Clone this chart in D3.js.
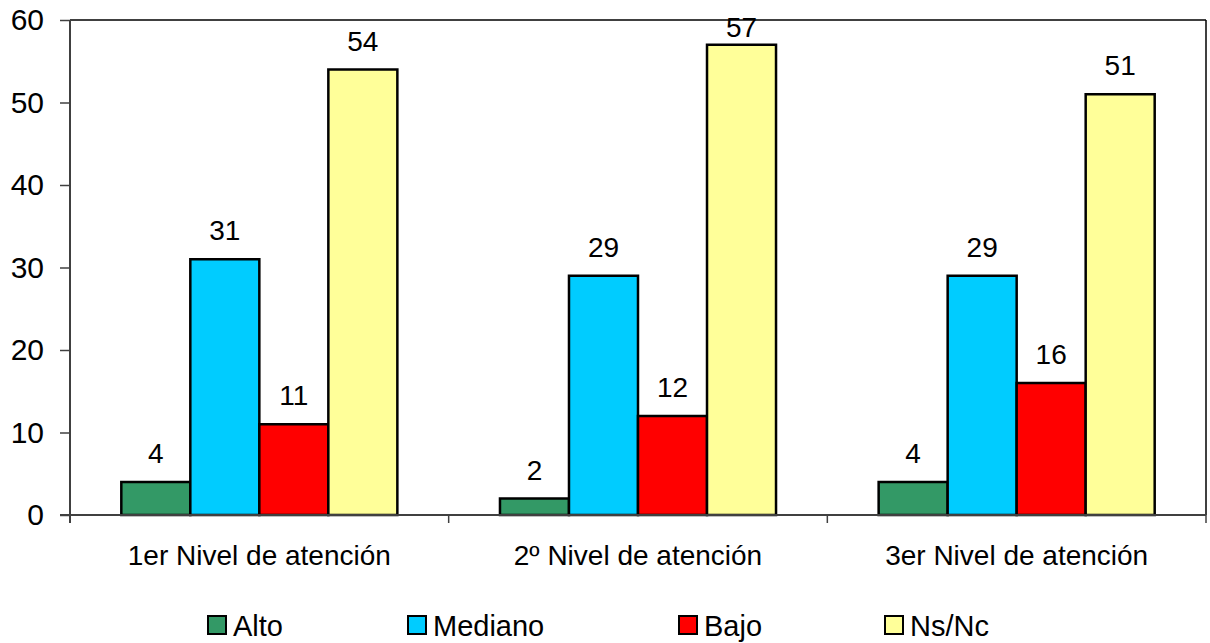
<!DOCTYPE html>
<html>
<head>
<meta charset="utf-8">
<script src="https://cdn.jsdelivr.net/npm/d3@7"></script>
<style>
  html, body { margin: 0; padding: 0; background: #fff; }
  svg { display: block; }
  text { font-family: Arial, "Liberation Sans", sans-serif; fill: #000; }
</style>
</head>
<body>
<svg id="chart" width="1210" height="643"></svg>
<script>
const categories = ["1er Nivel de atención", "2º Nivel de atención", "3er Nivel de atención"];
const seriesNames = ["Alto", "Mediano", "Bajo", "Ns/Nc"];
const seriesColors = ["#339966", "#00CCFF", "#FF0000", "#FFFF99"];
const alto = [4, 2, 4];
const mediano = [31, 29, 29];
const bajo = [11, 12, 16];
const nsnc = [54, 57, 51];
const yTicks = [0, 10, 20, 30, 40, 50, 60];

const seriesValues = [alto, mediano, bajo, nsnc];

const svg = d3.select("#chart");
const plotLeft = 70, plotRight = 1206, plotTop = 20, plotBottom = 515;

const x0 = d3.scaleBand().domain(categories).range([plotLeft, plotRight])
  .paddingInner(0.271).paddingOuter(0.1355);
const x1 = d3.scaleBand().domain(seriesNames).range([0, x0.bandwidth()]).padding(0);
const y = d3.scaleLinear().domain([0, 60]).range([plotBottom, plotTop]);

// plot border top and right
svg.append("line").attr("x1", plotLeft).attr("x2", plotRight).attr("y1", plotTop).attr("y2", plotTop)
  .attr("stroke", "#000").attr("stroke-width", 1.5);
svg.append("line").attr("x1", plotRight).attr("x2", plotRight).attr("y1", plotTop).attr("y2", plotBottom)
  .attr("stroke", "#000").attr("stroke-width", 1.5);

// y axis
const yAxis = d3.axisLeft(y).tickValues(yTicks).tickSize(10).tickPadding(16);
const gy = svg.append("g").attr("transform", `translate(${plotLeft},0)`).call(yAxis);
gy.select(".domain").remove();
gy.selectAll(".tick line").attr("stroke", "#404040").attr("stroke-width", 1.5);
gy.selectAll(".tick text").attr("font-size", 30).attr("font-family", "Arial, 'Liberation Sans', sans-serif").attr("fill", "#000");
svg.append("line").attr("x1", plotLeft).attr("x2", plotLeft).attr("y1", plotTop).attr("y2", plotBottom + 8)
  .attr("stroke", "#404040").attr("stroke-width", 2);

// bars
const groups = svg.append("g").selectAll("g").data(categories).join("g")
  .attr("transform", d => `translate(${x0(d)},0)`);
seriesNames.forEach((s, si) => {
  groups.append("rect")
    .attr("x", x1(s))
    .attr("y", (d, ci) => y(seriesValues[si][ci]))
    .attr("width", x1.bandwidth())
    .attr("height", (d, ci) => plotBottom - y(seriesValues[si][ci]))
    .attr("fill", seriesColors[si])
    .attr("stroke", "#000").attr("stroke-width", 2.5);
  groups.append("text")
    .attr("x", x1(s) + x1.bandwidth() / 2)
    .attr("y", (d, ci) => Math.max(y(seriesValues[si][ci]) - 19, plotTop + 17))
    .attr("text-anchor", "middle")
    .attr("font-size", 28)
    .text((d, ci) => seriesValues[si][ci]);
});

// x axis
const step = x0.step();
const boundaries = d3.range(categories.length + 1).map(i => plotLeft + i * step);
svg.append("line").attr("x1", plotLeft - 10).attr("x2", plotRight).attr("y1", plotBottom).attr("y2", plotBottom)
  .attr("stroke", "#404040").attr("stroke-width", 2);
svg.append("g").selectAll("line").data(boundaries).join("line")
  .attr("x1", d => d).attr("x2", d => d).attr("y1", plotBottom).attr("y2", plotBottom + 8)
  .attr("stroke", "#404040").attr("stroke-width", 1.5);
svg.append("g").selectAll("text").data(categories).join("text")
  .attr("x", d => x0(d) + x0.bandwidth() / 2)
  .attr("y", 565)
  .attr("text-anchor", "middle")
  .attr("font-size", 28)
  .text(d => d);

// legend
const legendX = [208, 408, 679, 885];
const lg = svg.append("g").selectAll("g").data(seriesNames).join("g")
  .attr("transform", (d, i) => `translate(${legendX[i]},0)`);
lg.append("rect").attr("x", 0).attr("y", 616).attr("width", 18).attr("height", 18)
  .attr("fill", (d, i) => seriesColors[i]).attr("stroke", "#000").attr("stroke-width", 2);
lg.append("text").attr("x", 25).attr("y", 636).attr("font-size", 29).text(d => d);
</script>
</body>
</html>
